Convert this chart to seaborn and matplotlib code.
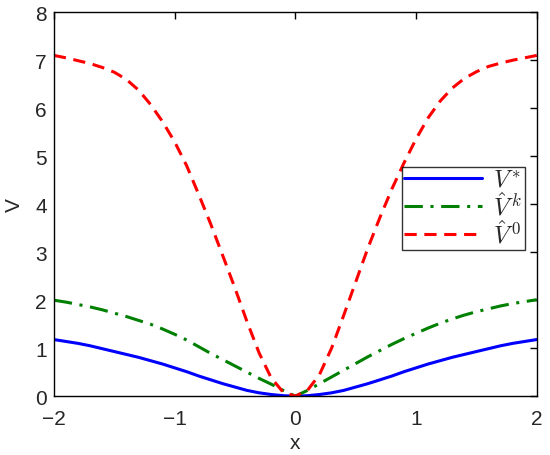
import numpy as np
import pandas as pd
import matplotlib
matplotlib.use("Agg")
import matplotlib.pyplot as plt
import seaborn as sns

# values
x_vals = np.round(np.arange(-2.0, 2.01, 0.1), 2)

v_star = [1.18, 1.14, 1.10, 1.05, 0.99, 0.93, 0.87, 0.81, 0.74, 0.67,
          0.59, 0.51, 0.42, 0.34, 0.26, 0.19, 0.12, 0.07, 0.035, 0.01,
          0.0,
          0.01, 0.035, 0.07, 0.12, 0.19, 0.26, 0.34, 0.42, 0.51, 0.59,
          0.67, 0.74, 0.81, 0.87, 0.93, 0.99, 1.05, 1.10, 1.14, 1.18]

v_k = [2.00, 1.96, 1.91, 1.86, 1.80, 1.73, 1.66, 1.58, 1.50, 1.40,
       1.29, 1.17, 1.03, 0.89, 0.76, 0.63, 0.50, 0.37, 0.25, 0.12,
       0.0,
       0.12, 0.26, 0.40, 0.54, 0.68, 0.82, 0.95, 1.08, 1.20, 1.31,
       1.42, 1.52, 1.61, 1.69, 1.76, 1.82, 1.88, 1.93, 1.97, 2.01]

v_0 = [7.10, 7.05, 6.99, 6.93, 6.85, 6.75, 6.60, 6.38, 6.08, 5.72,
       5.30, 4.80, 4.20, 3.58, 2.92, 2.25, 1.55, 0.90, 0.38, 0.08,
       0.0,
       0.12, 0.45, 1.00, 1.68, 2.38, 3.08, 3.72, 4.32, 4.86, 5.36,
       5.80, 6.15, 6.42, 6.62, 6.76, 6.87, 6.94, 7.00, 7.05, 7.10]

labels = [r"${V\,}^{*}$", r"${\hat{V}\,}^{k}$", r"${\hat{V}\,}^{0}$"]
colors = ["#0000ff", "#008000", "#ff0000"]
dashes = [None, (6, 2.5, 1, 2.5), (4, 2.5)]

df = pd.DataFrame({"x": x_vals, "s0": v_star, "s1": v_k, "s2": v_0})
long = df.melt(id_vars="x", var_name="series", value_name="V")

sns.set_style("white")
plt.rcParams["font.family"] = ["Liberation Sans", "DejaVu Sans"]
plt.rcParams["mathtext.fontset"] = "cm"

fig = plt.figure(figsize=(5.5, 4.56), dpi=100)
ax = fig.add_axes([0.098, 0.129, 0.878, 0.842])

for key, lab, col, dsh in zip(["s0", "s1", "s2"], labels, colors, dashes):
    sub = long[long["series"] == key]
    sns.lineplot(data=sub, x="x", y="V", ax=ax, color=col, lw=2.2, label=lab)
    if dsh is not None:
        ax.lines[-1].set_dashes(dsh)

ax.set_xlim(-2, 2)
ax.set_ylim(0, 8)
ax.set_xticks([-2, -1, 0, 1, 2])
ax.set_xticklabels(["\u22122", "\u22121", "0", "1", "2"])
ax.set_yticks(range(0, 9))
ax.tick_params(direction="in", top=True, right=True, length=5, width=1,
               labelsize=15, color="black")
ax.tick_params(axis="x", pad=9)
ax.tick_params(axis="y", pad=5)
for s in ax.spines.values():
    s.set_color("black")
    s.set_linewidth(1)
ax.set_xlabel("x", fontsize=15, labelpad=4)
ax.set_ylabel("V", fontsize=15, labelpad=8)

leg = ax.legend(loc="upper left", bbox_to_anchor=(0.72, 0.597), fontsize=17.5,
                frameon=True, fancybox=False, edgecolor="black",
                handlelength=3.2, handletextpad=0.45, borderpad=0.1,
                labelspacing=0.0, borderaxespad=0)
leg.get_frame().set_linewidth(1)

fig.savefig("out.png", dpi=100)
